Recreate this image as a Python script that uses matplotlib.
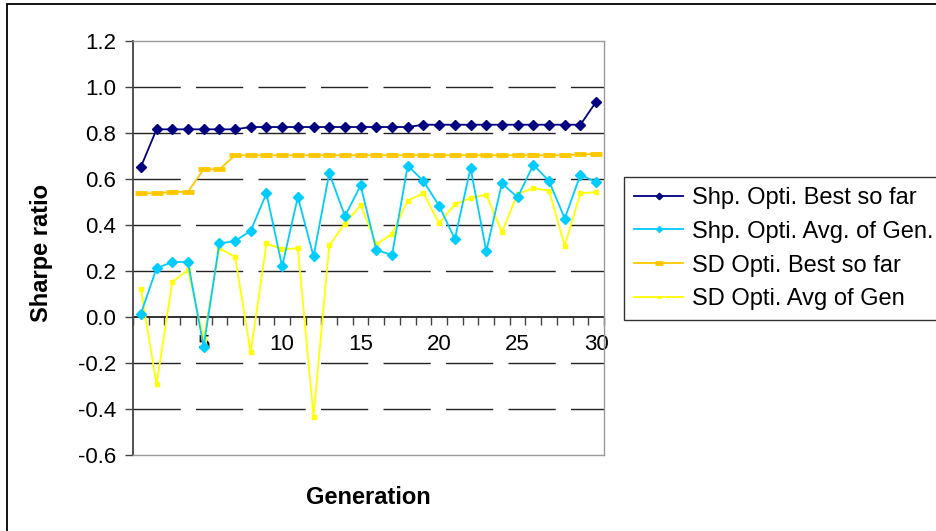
"""Sharpe ratio per generation for the two GA optimisation runs."""

import matplotlib

matplotlib.use("Agg")
import matplotlib.pyplot as plt
import numpy as np
from matplotlib.patches import Rectangle

plt.rcParams["font.family"] = ["Liberation Sans", "DejaVu Sans"]

generations = list(range(1, 31))

shp_best = [0.652, 0.816, 0.816, 0.816, 0.816, 0.816, 0.816, 0.826, 0.826, 0.826,
            0.826, 0.826, 0.826, 0.826, 0.826, 0.826, 0.826, 0.826, 0.836, 0.836,
            0.836, 0.836, 0.836, 0.836, 0.836, 0.836, 0.836, 0.836, 0.836, 0.936]
shp_avg = [0.014, 0.212, 0.239, 0.239, -0.13, 0.320, 0.330, 0.375, 0.538, 0.220,
           0.522, 0.264, 0.625, 0.439, 0.572, 0.291, 0.270, 0.658, 0.591, 0.483,
           0.339, 0.648, 0.286, 0.581, 0.520, 0.662, 0.591, 0.428, 0.619, 0.586]
sd_best = [0.538, 0.538, 0.544, 0.544, 0.642, 0.642, 0.703, 0.703, 0.703, 0.703,
           0.703, 0.703, 0.703, 0.703, 0.703, 0.703, 0.703, 0.703, 0.703, 0.703,
           0.703, 0.703, 0.703, 0.703, 0.703, 0.703, 0.703, 0.703, 0.707, 0.709]
sd_avg = [0.122, -0.293, 0.152, 0.204, -0.095, 0.299, 0.261, -0.154, 0.320, 0.294,
          0.299, -0.433, 0.312, 0.406, 0.487, 0.316, 0.361, 0.506, 0.538, 0.407,
          0.490, 0.517, 0.532, 0.370, 0.535, 0.560, 0.549, 0.310, 0.538, 0.543]

labels = [
    "Shp. Opti. Best so far",
    "Shp. Opti. Avg. of Gen.",
    "SD Opti. Best so far",
    "SD Opti. Avg of Gen",
]
y_ticks = [-0.6, -0.4, -0.2, 0.0, 0.2, 0.4, 0.6, 0.8, 1.0, 1.2]
x_label_ticks = [5, 10, 15, 20, 25, 30]


def main() -> None:
    fig = plt.figure(figsize=(9.37, 5.31), dpi=100)
    ax = fig.add_axes([133 / 937, 1 - 455 / 531, 471 / 937, 414 / 531])

    ymin, ymax = y_ticks[0], y_ticks[-1]
    ax.set_xlim(0.5, 30.5)
    ax.set_ylim(ymin, ymax)

    # dashed horizontal gridlines
    for v in y_ticks[1:-1]:
        if v == 0.0:
            continue
        ax.axhline(v, color="#222222", lw=1.0, ls=(0, (34, 11)), zorder=1)

    ax.plot(generations, shp_best, color="#000080", lw=1.3, marker="D",
            ms=5.5, mec="#000080", zorder=5, label=labels[0])
    ax.plot(generations, shp_avg, color="#00CCFF", lw=1.3, marker="D",
            ms=5, mec="#00CCFF", zorder=4, label=labels[1])
    ax.plot(generations, sd_best, color="#FFC800", lw=1.3, marker="_",
            ms=9, mew=3.5, zorder=3, label=labels[2])
    ax.plot(generations, sd_avg, color="#FFFF00", lw=1.3, marker="s",
            ms=2.5, mec="#FFFF00", zorder=3, label=labels[3])

    for side in ("top", "right", "bottom"):
        ax.spines[side].set_color("#999999")
        ax.spines[side].set_linewidth(1.0)
    ax.spines["left"].set_color("#444444")
    ax.spines["left"].set_linewidth(1.3)

    ax.set_yticks(y_ticks)
    ax.set_yticklabels([f"{v:.1f}" for v in y_ticks])
    ax.tick_params(axis="y", direction="out", length=6, width=1,
                   color="#444444", labelsize=16, pad=6)
    ax.tick_params(axis="x", bottom=False, labelbottom=False)

    # category axis drawn through y = 0
    zero_frac = (0 - ymin) / (ymax - ymin)
    xaxis = ax.secondary_xaxis(zero_frac)
    xaxis.spines["bottom"].set_color("#222222")
    xaxis.spines["bottom"].set_linewidth(1.3)
    xaxis.set_xticks(x_label_ticks)
    xaxis.set_xticks(np.arange(0.5, 31, 1), minor=True)
    xaxis.tick_params(which="major", length=0, labelsize=16, pad=12)
    xaxis.tick_params(which="minor", direction="out", length=6, width=1,
                      color="#444444")

    fig.text(368 / 937, 1 - 497 / 531, "Generation", ha="center", va="center",
             fontsize=17, fontweight="bold")
    fig.text(42 / 937, 1 - 253 / 531, "Sharpe ratio", ha="center", va="center",
             rotation=90, fontsize=17, fontweight="bold")

    leg = fig.legend(loc="upper left", bbox_to_anchor=(624 / 937, 1 - 177 / 531),
                     fontsize=17, frameon=True, fancybox=False, handlelength=2.1,
                     handletextpad=0.35, labelspacing=0.5, borderpad=0.42,
                     borderaxespad=0)
    leg.get_frame().set_edgecolor("black")
    leg.get_frame().set_linewidth(1.0)
    for handle in leg.legend_handles:
        handle.set_markersize(handle.get_markersize() * 0.6)

    fig.add_artist(Rectangle((7 / 937, -0.1), 2, 1 - 4 / 531 + 0.1,
                             transform=fig.transFigure, fill=False,
                             ec="black", lw=1.3))

    fig.savefig("out.png", dpi=100)
    plt.close(fig)


if __name__ == "__main__":
    main()
